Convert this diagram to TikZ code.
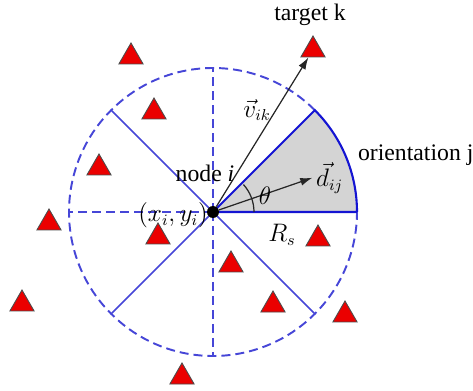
\documentclass[tikz,border=0pt]{standalone}
\usepackage{amsmath}
\usepackage{fontspec}
\setmainfont{Liberation Serif}
\usepackage{tikz}
\usetikzlibrary{
    shapes.geometric,
    arrows.meta,
    positioning
}
\definecolor{sectblue}{RGB}{20,20,210}
\definecolor{dashblue}{RGB}{70,70,215}
\definecolor{trired}{RGB}{235,0,0}
\definecolor{sectgray}{RGB}{212,212,212}

\begin{document}
\begin{tikzpicture}[
            font=\fontsize{13.5}{15}\selectfont,
            >=Latex,
            target/.style={regular polygon, regular polygon sides=3, draw=black!70, line width=0.5pt,
                           fill=trired, minimum size=0.56cm, inner sep=0pt},
            dot/.style={circle, fill=black, minimum size=0.24cm, inner sep=0pt},
            dashln/.style={dashblue, line width=1.1pt, dash pattern=on 0.18cm off 0.1cm},
            diagln/.style={dashblue, line width=0.9pt},
            sectln/.style={sectblue, line width=1.2pt},
            arr/.style={-{Latex[length=2.4mm, width=1.6mm]}, line width=0.7pt, black!85},
            lbl/.style={inner sep=1pt}
        ]
            \useasboundingbox (-4.26,-3.58) rectangle (5.2,4.24);
            \def\Rs{2.88}

            % sensing sector of orientation j
            \fill[sectgray] (0,0) -- (0:\Rs) arc[start angle=0, end angle=45, radius=\Rs] -- cycle;

            % sector partition
            \draw[dashln] (0,0) -- (90:\Rs);
            \draw[dashln] (0,0) -- (180:\Rs);
            \draw[dashln] (0,0) -- (270:\Rs);
            \draw[diagln] (0,0) -- (135:\Rs);
            \draw[diagln] (0,0) -- (225:\Rs);
            \draw[diagln] (0,0) -- (315:\Rs);
            \draw[dashln] (45:\Rs) arc[start angle=45, end angle=360, radius=\Rs];
            \draw[sectln] (0:\Rs) -- (0,0) -- (45:\Rs) arc[start angle=45, end angle=0, radius=\Rs];

            % targets
            \node[target] (tk) at (2.0, 3.24) {};
            \node[target] (t2) at (-1.64, 3.1) {};
            \node[target] (t3) at (-1.18, 2.0) {};
            \node[target] (t4) at (-2.28, 0.88) {};
            \node[target] (t5) at (-3.28, -0.22) {};
            \node[target] (t6) at (-1.1, -0.5) {};
            \node[target] (t7) at (2.1, -0.54) {};
            \node[target] (t8) at (0.36, -1.06) {};
            \node[target] (t9) at (1.2, -1.86) {};
            \node[target] (t10) at (2.64, -2.06) {};
            \node[target] (t11) at (-3.82, -1.84) {};
            \node[target] (t12) at (-0.62, -3.3) {};

            % sensor node and vectors
            \node[dot] (nodei) at (0,0) {};
            \coordinate (dend) at (19:2.1);
            \draw[arr] (nodei) -- (dend);
            \draw[arr] (nodei) -- (tk);
            \draw[black!85, line width=0.7pt] (0:0.82) arc[start angle=0, end angle=42, radius=0.82];

            \node[lbl] (tklabel) at (1.94, 3.94) {target k};
            \node[lbl, anchor=west] (orient) at (2.86, 1.14) {orientation j};
            \node[lbl] (nodelabel) at (-0.16, 0.78) {node \textit{i}};
            \node[lbl] (xy) at (-0.8, -0.06) {$(x_i,y_i)$};
            \node[lbl] (vik) at (0.88, 2.04) {$\vec{v}_{ik}$};
            \node[lbl, right=2pt of dend, inner sep=0pt] (dij) {$\vec{d}_{ij}$};
            \node[lbl] (theta) at (1.04, 0.32) {$\theta$};
            \node[lbl] (rs) at (1.38, -0.46) {$R_s$};
        \end{tikzpicture}
\end{document}
